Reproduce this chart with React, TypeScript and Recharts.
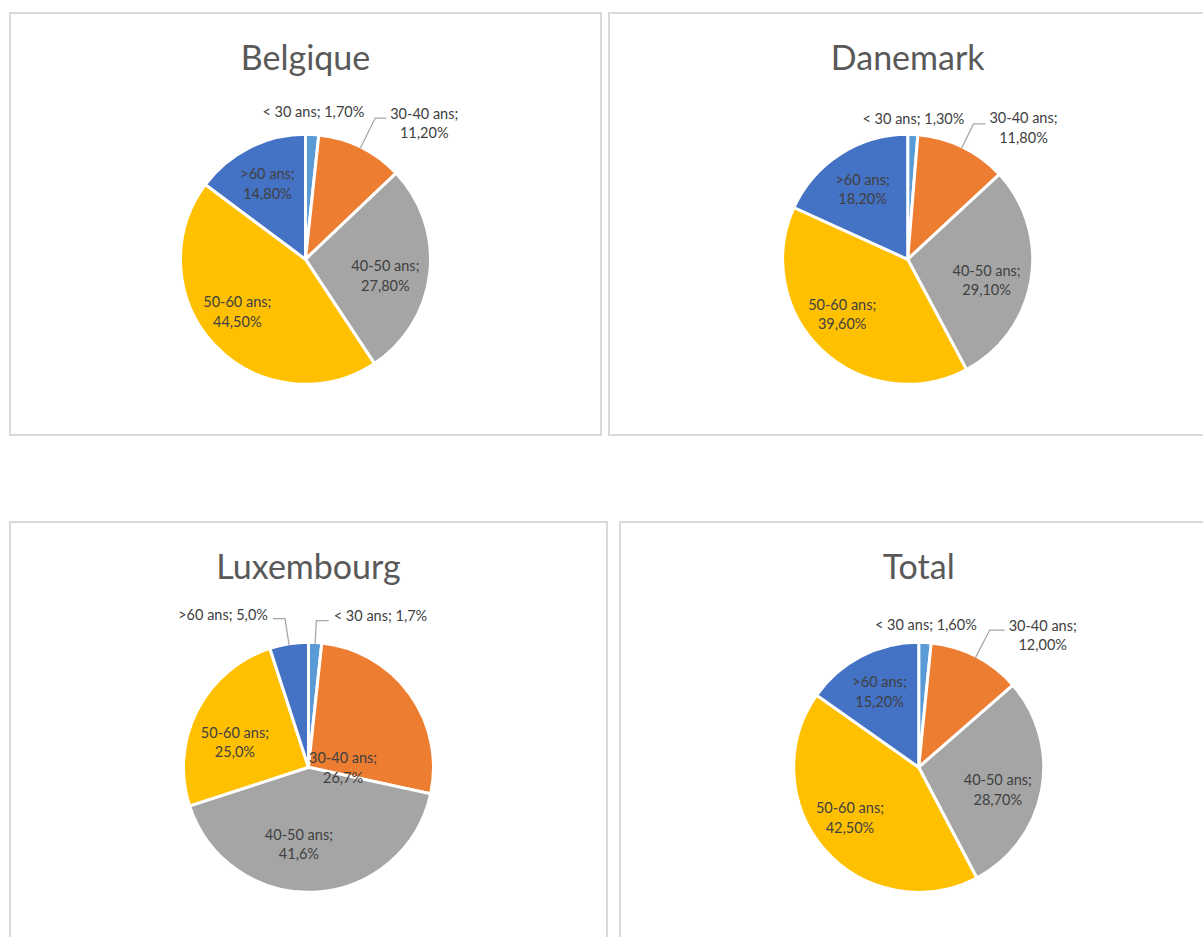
import { PieChart, Pie, Cell } from 'recharts';

const categories = ['< 30 ans', '30-40 ans', '40-50 ans', '50-60 ans', '>60 ans'];
const colors = ['#5B9BD5', '#ED7D31', '#A5A5A5', '#FFC000', '#4472C4'];

const belgique = [1.7, 11.2, 27.8, 44.5, 14.8];
const danemark = [1.3, 11.8, 29.1, 39.6, 18.2];
const luxembourg = [1.7, 26.7, 41.6, 25.0, 5.0];
const total = [1.6, 12.0, 28.7, 42.5, 15.2];

type LabelSpec =
    | { kind: 'inside'; shift: number; f: number }
    | { kind: 'outside'; extra: number }
    | { kind: 'leader'; extra: number; h: number; side: 1 | -1; two: boolean; dy: number };

const FONT = 'Lato, "Open Sans", sans-serif';
const LABEL_SIZE = 14.5;
const LINE = 19.5;
const RAD = Math.PI / 180;
const MARGIN = 5; // recharts default chart margin

const fmt = (v: number, d: number) => v.toFixed(d).replace('.', ',') + '%';

function renderLabel(props: any, specs: LabelSpec[], decimals: number) {
    const { cx, cy, midAngle, outerRadius, name, value } = props;
    const idx = props.index ?? categories.indexOf(name);
    const spec = specs[idx];
    const r = outerRadius - 1.5;
    const a = 90 - midAngle; // clockwise from 12 o'clock
    const pt = (ang: number, d: number) => ({
        x: cx + d * Math.sin(ang * RAD),
        y: cy - d * Math.cos(ang * RAD),
    });
    const txt = { fontFamily: FONT, fontSize: LABEL_SIZE, fill: '#404040' };
    const pct = fmt(value, decimals);

    if (spec.kind === 'inside') {
        const p = pt(a + spec.shift, r * spec.f);
        return (
            <g key={`l-${idx}`}>
                <text {...txt} x={p.x} y={p.y - LINE / 2} textAnchor="middle" dominantBaseline="central">
                    {name};
                </text>
                <text {...txt} x={p.x} y={p.y + LINE / 2} textAnchor="middle" dominantBaseline="central">
                    {pct}
                </text>
            </g>
        );
    }
    if (spec.kind === 'outside') {
        const p = pt(a, r + spec.extra);
        return (
            <text key={`l-${idx}`} {...txt} x={p.x} y={p.y} textAnchor="middle" dominantBaseline="central">
                {`${name}; ${pct}`}
            </text>
        );
    }
    const p0 = pt(a, r);
    const p1 = pt(a, r + spec.extra);
    const endX = p1.x + spec.side * spec.h;
    const ty = p1.y + spec.dy;
    return (
        <g key={`l-${idx}`}>
            <polyline
                points={`${p0.x},${p0.y} ${p1.x},${p1.y} ${endX},${p1.y}`}
                fill="none"
                stroke="#A6A6A6"
                strokeWidth={1.25}
            />
            {spec.two ? (
                <>
                    <text {...txt} x={endX + 38} y={ty - LINE / 2} textAnchor="middle" dominantBaseline="central">
                        {name};
                    </text>
                    <text {...txt} x={endX + 38} y={ty + LINE / 2} textAnchor="middle" dominantBaseline="central">
                        {pct}
                    </text>
                </>
            ) : (
                <text
                    {...txt}
                    x={endX + spec.side * 5}
                    y={ty}
                    textAnchor={spec.side > 0 ? 'start' : 'end'}
                    dominantBaseline="central"
                >
                    {`${name}; ${pct}`}
                </text>
            )}
        </g>
    );
}

interface PanelProps {
    title: string;
    values: number[];
    decimals: number;
    specs: LabelSpec[];
    left: number;
    top: number;
    width: number;
    height: number;
    cx: number;
    cy: number;
}

function PiePanel({ title, values, decimals, specs, left, top, width, height, cx, cy }: PanelProps) {
    const data = categories.map((name, i) => ({ name, value: values[i] }));
    return (
        <div
            style={{
                position: 'absolute',
                left,
                top,
                width,
                height,
                boxSizing: 'border-box',
                border: '2px solid #D9D9D9',
                background: '#fff',
            }}
        >
            <div
                style={{
                    position: 'absolute',
                    left: cx - 2 - 200,
                    top: 26,
                    width: 400,
                    textAlign: 'center',
                    fontFamily: FONT,
                    fontSize: 34,
                    lineHeight: '34px',
                    color: '#595959',
                }}
            >
                {title}
            </div>
            <div style={{ position: 'absolute', left: -2, top: -2 }}>
                <PieChart width={width} height={height}>
                    <Pie
                        data={data}
                        dataKey="value"
                        nameKey="name"
                        cx={cx - MARGIN}
                        cy={cy - MARGIN}
                        outerRadius={125}
                        startAngle={90}
                        endAngle={-270}
                        stroke="#fff"
                        strokeWidth={3}
                        isAnimationActive={false}
                        labelLine={false}
                        label={(p: any) => renderLabel(p, specs, decimals)}
                    >
                        {data.map((d, i) => (
                            <Cell key={d.name} fill={colors[i]} />
                        ))}
                    </Pie>
                </PieChart>
            </div>
        </div>
    );
}

const belgiqueLabels: LabelSpec[] = [
    { kind: 'outside', extra: 25 },
    { kind: 'leader', extra: 34, h: 11, side: 1, two: true, dy: 5 },
    { kind: 'inside', shift: 5, f: 0.66 },
    { kind: 'inside', shift: 6, f: 0.695 },
    { kind: 'inside', shift: 0, f: 0.687 },
];
const danemarkLabels: LabelSpec[] = [
    { kind: 'outside', extra: 17 },
    { kind: 'leader', extra: 27, h: 12, side: 1, two: true, dy: 3.5 },
    { kind: 'inside', shift: 5, f: 0.66 },
    { kind: 'inside', shift: 7, f: 0.69 },
    { kind: 'inside', shift: 0, f: 0.675 },
];
const luxembourgLabels: LabelSpec[] = [
    { kind: 'leader', extra: 23.5, h: 12.4, side: 1, two: false, dy: -5 },
    { kind: 'inside', shift: 36, f: 0.28 },
    { kind: 'inside', shift: 10, f: 0.626 },
    { kind: 'inside', shift: -8, f: 0.63 },
    { kind: 'leader', extra: 27, h: 12, side: -1, two: false, dy: -4 },
];
const totalLabels: LabelSpec[] = [
    { kind: 'outside', extra: 19.5 },
    { kind: 'leader', extra: 31, h: 15, side: 1, two: true, dy: 4.8 },
    { kind: 'inside', shift: 5, f: 0.665 },
    { kind: 'inside', shift: 5, f: 0.69 },
    { kind: 'inside', shift: 0, f: 0.69 },
];

export default function App() {
    return (
        <div
            style={{
                position: 'absolute',
                left: 0,
                top: 0,
                width: 1203,
                height: 937,
                overflow: 'hidden',
                background: '#fff',
            }}
        >
            <PiePanel title="Belgique" values={belgique} decimals={2} specs={belgiqueLabels}
                left={9} top={12} width={593} height={424} cx={296.5} cy={247.3} />
            <PiePanel title="Danemark" values={danemark} decimals={2} specs={danemarkLabels}
                left={608} top={12} width={600} height={424} cx={299.7} cy={247.3} />
            <PiePanel title="Luxembourg" values={luxembourg} decimals={1} specs={luxembourgLabels}
                left={9} top={521} width={599} height={430} cx={299.5} cy={246.3} />
            <PiePanel title="Total" values={total} decimals={2} specs={totalLabels}
                left={619} top={521} width={600} height={430} cx={299.7} cy={246.3} />
        </div>
    );
}
